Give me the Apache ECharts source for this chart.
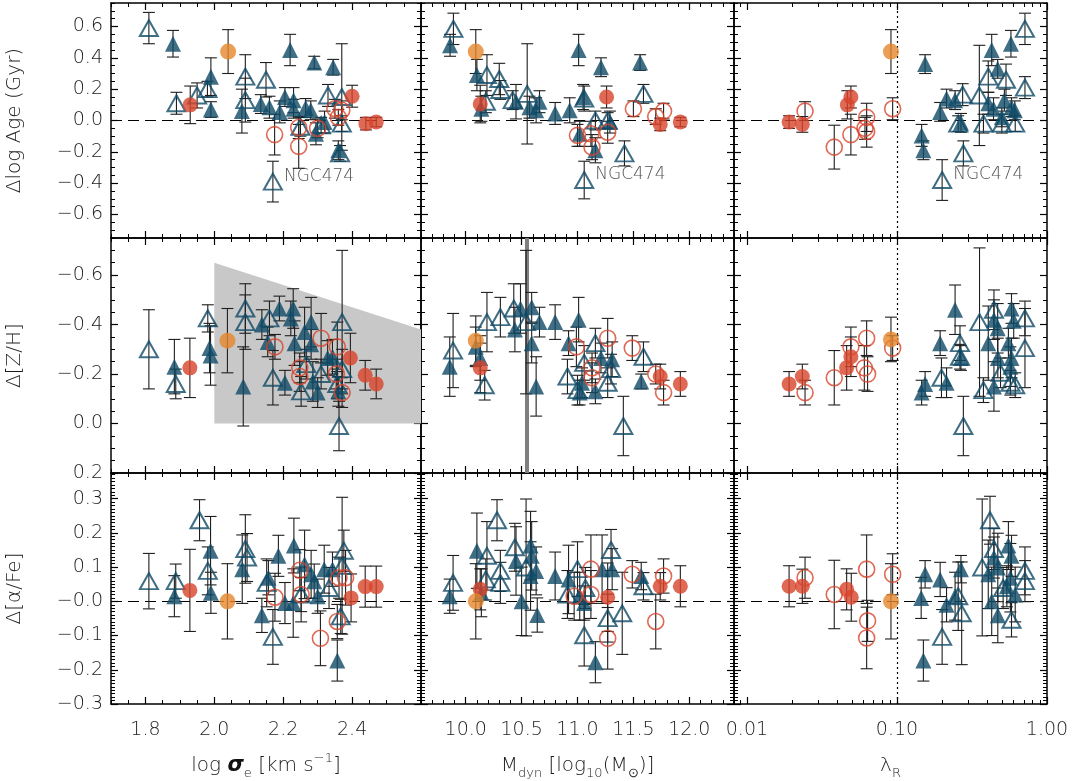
<!DOCTYPE html>
<html>
<head>
<meta charset="utf-8">
<script src="https://cdn.jsdelivr.net/npm/echarts@6/dist/echarts.min.js"></script>
<style>html,body{margin:0;background:#fff}#chart{width:1075px;height:781px}</style>
</head>
<body>
<div id="chart"></div>
<script>
// each point: [type, x, y, err, label]
// ft = filled triangle, ot = open triangle, fr = filled red, or = open red, oo = orange
var ageSigma = [
  ['ft',1.88,0.49,0.085],['ft',1.99,0.28,0.12],['ft',1.99,0.07,0.05],['ft',2.08,0.06,0.14],
  ['ft',2.135,0.105,0.06],['ft',2.16,0.085,0.07],['ft',2.19,0.055,0.07],['ft',2.205,0.15,0.06],
  ['ft',2.22,0.45,0.10],['ft',2.23,0.13,0.08],['ft',2.23,0.075,0.06],['ft',2.265,0.08,0.06],
  ['ft',2.28,0.065,0.06],['ft',2.29,0.37,0.04],['ft',2.295,-0.085,0.07],['ft',2.32,-0.01,0.07],
  ['ft',2.345,0.34,0.05],['ft',2.36,-0.19,0.06],
  ['ot',1.81,0.59,0.10],['ot',1.89,0.11,0.07],['ot',1.95,0.16,0.08],['ot',1.98,0.20,0.05],
  ['ot',2.09,0.28,0.14],['ot',2.09,0.13,0.14],['ot',2.15,0.26,0.11],['ot',2.17,-0.39,0.13,'NGC474'],
  ['ot',2.25,-0.04,0.06],['ot',2.33,0.16,0.07],['ot',2.37,0.15,0.34],['ot',2.37,-0.02,0.05],
  ['ot',2.365,-0.21,0.05],['ot',2.31,-0.03,0.05],
  ['fr',1.93,0.10,0.12],['fr',2.40,0.155,0.07],['fr',2.44,-0.02,0.04],['fr',2.47,-0.01,0.03],
  ['or',2.175,-0.09,0.13],['or',2.245,-0.045,0.07],['or',2.245,-0.165,0.14],['or',2.30,-0.05,0.06],
  ['or',2.35,0.075,0.06],['or',2.37,0.065,0.06],['or',2.36,0.02,0.05],
  ['oo',2.04,0.44,0.14]
];
var ageMass = [
  ['ft',9.86,0.48,0.07],['ft',10.10,0.29,0.10],['ft',10.14,0.075,0.08],['ft',10.45,0.12,0.11],
  ['ft',10.57,0.085,0.07],['ft',10.63,0.065,0.08],['ft',10.66,0.12,0.07],['ft',10.80,0.045,0.07],
  ['ft',10.93,0.065,0.08],['ft',11.01,0.45,0.10],['ft',11.05,0.15,0.08],['ft',11.21,0.34,0.06],
  ['ft',11.02,-0.085,0.08],['ft',11.16,-0.19,0.08],['ft',11.29,-0.01,0.07],['ft',11.56,0.37,0.05],
  ['ot',9.89,0.585,0.10],['ot',10.19,0.29,0.13],['ot',10.30,0.265,0.10],['ot',10.31,0.195,0.06],
  ['ot',10.18,0.12,0.07],['ot',10.42,0.13,0.06],['ot',10.55,0.17,0.32],['ot',11.06,0.14,0.08],
  ['ot',11.16,0.0,0.06],['ot',11.42,-0.21,0.08],['ot',11.59,0.17,0.06],['ot',11.06,-0.38,0.12,'NGC474'],
  ['ot',11.27,0.0,0.05],
  ['fr',10.13,0.105,0.12],['fr',11.26,0.15,0.07],['fr',11.74,-0.025,0.04],['fr',11.92,-0.01,0.03],
  ['or',11.50,0.075,0.05],['or',11.70,0.025,0.05],['or',11.77,0.06,0.05],['or',11.0,-0.095,0.07],
  ['or',11.12,-0.085,0.08],['or',11.13,-0.17,0.08],['or',11.27,-0.075,0.07],
  ['oo',10.09,0.44,0.14]
];
var ageLambda = [
  ['ft',0.154,0.36,0.06],['ft',0.146,-0.095,0.07],['ft',0.150,-0.19,0.06],['ft',0.194,0.055,0.06],
  ['ft',0.214,0.14,0.06],['ft',0.244,0.13,0.06],['ft',0.267,-0.015,0.06],['ft',0.428,0.45,0.10],
  ['ft',0.575,0.49,0.085],['ft',0.469,0.33,0.06],['ft',0.406,0.11,0.07],['ft',0.44,0.075,0.07],
  ['ft',0.52,0.13,0.07],['ft',0.58,0.085,0.06],['ft',0.61,0.065,0.06],['ft',0.50,0.02,0.06],
  ['ot',0.713,0.585,0.10],['ot',0.713,0.21,0.07],['ot',0.533,0.26,0.10],['ot',0.406,0.28,0.10],
  ['ot',0.354,0.16,0.32],['ot',0.274,0.165,0.07],['ot',0.256,-0.02,0.05],['ot',0.277,-0.21,0.08],
  ['ot',0.20,-0.38,0.13,'NGC474'],['ot',0.377,-0.02,0.06],['ot',0.50,-0.02,0.06],['ot',0.614,-0.02,0.05],
  ['fr',0.0191,-0.01,0.04],['fr',0.0234,-0.025,0.05],['fr',0.0467,0.10,0.09],['fr',0.0493,0.15,0.07],
  ['or',0.0244,0.06,0.06],['or',0.0382,-0.17,0.14],['or',0.0493,-0.09,0.13],['or',0.0628,0.02,0.09],
  ['or',0.0612,-0.05,0.07],['or',0.0628,-0.07,0.10],['or',0.0936,0.075,0.07],
  ['oo',0.0912,0.44,0.14]
];
var zhSigma = [
  ['ft',1.884,-0.23,0.11],['ft',1.986,-0.305,0.10],['ft',1.989,-0.275,0.12],['ft',2.084,-0.15,0.16],
  ['ft',2.138,-0.40,0.06],['ft',2.155,-0.33,0.06],['ft',2.189,-0.465,0.05],['ft',2.229,-0.465,0.08],
  ['ft',2.222,-0.425,0.07],['ft',2.233,-0.325,0.09],['ft',2.262,-0.37,0.10],['ft',2.281,-0.41,0.10],
  ['ft',2.281,-0.32,0.06],['ft',2.205,-0.165,0.05],['ft',2.286,-0.17,0.08],['ft',2.30,-0.125,0.06],
  ['ft',2.329,-0.265,0.07],['ft',2.343,-0.27,0.07],['ft',2.36,-0.13,0.06],
  ['ot',1.81,-0.30,0.16],['ot',1.888,-0.16,0.06],['ot',1.981,-0.425,0.055],['ot',2.09,-0.465,0.10],
  ['ot',2.09,-0.41,0.11],['ot',2.16,-0.425,0.07],['ot',2.17,-0.185,0.11],['ot',2.252,-0.13,0.06],
  ['ot',2.267,-0.24,0.06],['ot',2.31,-0.20,0.06],['ot',2.371,-0.41,0.29],['ot',2.362,0.01,0.10],
  ['ot',2.371,-0.22,0.08],['ot',2.357,-0.16,0.06],
  ['fr',1.929,-0.225,0.12],['fr',2.395,-0.265,0.10],['fr',2.438,-0.195,0.06],['fr',2.47,-0.16,0.06],
  ['or',2.176,-0.31,0.05],['or',2.31,-0.345,0.10],['or',2.357,-0.31,0.10],['or',2.248,-0.225,0.06],
  ['or',2.248,-0.19,0.06],['or',2.354,-0.20,0.06],['or',2.371,-0.125,0.06],
  ['oo',2.038,-0.335,0.13]
];
var zhMass = [
  ['ft',9.857,-0.23,0.12],['ft',10.09,-0.31,0.08],['ft',10.13,-0.265,0.09],['ft',10.44,-0.38,0.09],
  ['ft',10.49,-0.465,0.10],['ft',10.59,-0.47,0.06],['ft',10.66,-0.41,0.06],['ft',10.59,-0.325,0.08],
  ['ft',10.63,-0.15,0.12],['ft',10.80,-0.41,0.07],['ft',11.01,-0.42,0.09],['ft',10.92,-0.325,0.05],
  ['ft',11.04,-0.165,0.06],['ft',11.02,-0.125,0.05],['ft',11.16,-0.13,0.05],['ft',11.21,-0.265,0.06],
  ['ft',11.31,-0.26,0.07],['ft',11.57,-0.17,0.03],
  ['ot',9.887,-0.295,0.15],['ot',10.19,-0.41,0.12],['ot',10.31,-0.43,0.08],['ot',10.43,-0.465,0.10],
  ['ot',10.54,-0.41,0.29],['ot',10.17,-0.155,0.06],['ot',10.91,-0.19,0.07],['ot',11.0,-0.135,0.06],
  ['ot',11.06,-0.245,0.07],['ot',11.16,-0.325,0.06],['ot',11.30,-0.22,0.06],['ot',11.27,-0.165,0.06],
  ['ot',11.41,0.01,0.12],['ot',11.59,-0.27,0.06],
  ['fr',10.13,-0.225,0.10],['fr',11.74,-0.19,0.05],['fr',11.92,-0.16,0.05],
  ['or',10.99,-0.31,0.08],['or',11.27,-0.345,0.08],['or',11.49,-0.305,0.05],['or',11.13,-0.225,0.06],
  ['or',11.13,-0.185,0.06],['or',11.70,-0.20,0.04],['or',11.77,-0.125,0.05],
  ['oo',10.09,-0.335,0.10]
];
var zhLambda = [
  ['ft',0.154,-0.16,0.05],['ft',0.146,-0.125,0.05],['ft',0.194,-0.325,0.05],['ft',0.214,-0.165,0.06],
  ['ft',0.244,-0.46,0.10],['ft',0.267,-0.265,0.05],['ft',0.406,-0.325,0.15],['ft',0.443,-0.42,0.08],
  ['ft',0.469,-0.385,0.10],['ft',0.58,-0.465,0.06],['ft',0.60,-0.415,0.07],['ft',0.553,-0.325,0.06],
  ['ft',0.47,-0.265,0.08],['ft',0.58,-0.265,0.08],['ft',0.57,-0.23,0.08],['ft',0.443,-0.15,0.10],
  ['ot',0.355,-0.41,0.30],['ot',0.263,-0.325,0.07],['ot',0.198,-0.185,0.08],['ot',0.277,0.01,0.12],
  ['ot',0.377,-0.135,0.05],['ot',0.443,-0.46,0.08],['ot',0.713,-0.425,0.07],['ot',0.713,-0.305,0.16],
  ['ot',0.49,-0.205,0.06],['ot',0.57,-0.165,0.05],['ot',0.614,-0.155,0.05],['ot',0.263,-0.27,0.05],
  ['fr',0.0191,-0.16,0.05],['fr',0.0234,-0.19,0.05],['fr',0.0462,-0.225,0.09],['fr',0.0493,-0.27,0.08],
  ['or',0.0244,-0.125,0.05],['or',0.0382,-0.185,0.11],['or',0.0493,-0.31,0.08],['or',0.0628,-0.345,0.07],
  ['or',0.0606,-0.225,0.09],['or',0.0637,-0.20,0.07],['or',0.0936,-0.305,0.05],
  ['oo',0.0912,-0.34,0.09]
];
var afeSigma = [
  ['ft',1.884,0.015,0.06],['ft',1.989,0.148,0.10],['ft',1.99,0.025,0.06],['ft',2.081,0.094,0.10],
  ['ft',2.138,-0.041,0.05],['ft',2.157,0.069,0.05],['ft',2.186,0.133,0.06],['ft',2.205,-0.005,0.06],
  ['ft',2.229,-0.005,0.10],['ft',2.231,0.163,0.08],['ft',2.262,0.108,0.10],['ft',2.281,0.079,0.07],
  ['ft',2.29,0.059,0.05],['ft',2.30,0.015,0.05],['ft',2.319,0.094,0.07],['ft',2.343,0.094,0.05],
  ['ft',2.357,-0.173,0.06],
  ['ot',1.81,0.059,0.081],['ot',1.888,0.059,0.05],['ot',1.957,0.237,0.06],['ot',1.981,0.089,0.07],
  ['ot',2.09,0.153,0.10],['ot',2.095,0.128,0.07],['ot',2.152,0.054,0.07],['ot',2.17,-0.104,0.08],
  ['ot',2.252,0.02,0.05],['ot',2.333,0.039,0.06],['ot',2.376,0.148,0.06],['ot',2.371,0.104,0.20],
  ['ot',2.367,-0.044,0.05],
  ['fr',1.929,0.032,0.12],['fr',2.397,0.01,0.07],['fr',2.438,0.043,0.06],['fr',2.47,0.043,0.06],
  ['or',2.176,0.012,0.07],['or',2.248,0.091,0.06],['or',2.252,0.02,0.08],['or',2.308,-0.108,0.08],
  ['or',2.357,-0.059,0.05],['or',2.362,0.069,0.06],['or',2.381,0.069,0.08],
  ['oo',2.038,0.0,0.11]
];
var afeMass = [
  ['ft',9.857,0.015,0.05],['ft',10.10,0.148,0.11],['ft',10.14,0.025,0.07],['ft',10.45,0.118,0.10],
  ['ft',10.58,0.163,0.10],['ft',10.59,0.133,0.10],['ft',10.63,0.089,0.07],['ft',10.58,0.074,0.10],
  ['ft',10.50,0.0,0.10],['ft',10.64,-0.04,0.05],['ft',10.80,0.074,0.07],['ft',10.92,0.064,0.10],
  ['ft',11.02,0.015,0.07],['ft',11.06,-0.005,0.05],['ft',11.16,-0.178,0.06],['ft',11.22,0.094,0.10],
  ['ft',11.31,0.094,0.06],['ft',11.57,0.074,0.04],
  ['ot',9.887,0.054,0.08],['ot',10.28,0.237,0.06],['ot',10.19,0.133,0.10],['ot',10.18,0.064,0.06],
  ['ot',10.31,0.089,0.06],['ot',10.31,0.054,0.06],['ot',10.44,0.158,0.07],['ot',10.54,0.099,0.20],
  ['ot',10.91,0.02,0.07],['ot',11.0,0.094,0.08],['ot',11.06,-0.099,0.09],['ot',11.07,0.039,0.06],
  ['ot',11.27,-0.049,0.07],['ot',11.30,0.15,0.06],['ot',11.40,-0.035,0.12],['ot',11.59,0.044,0.04],
  ['fr',10.13,0.035,0.06],['fr',11.27,0.012,0.10],['fr',11.74,0.044,0.04],['fr',11.92,0.044,0.06],
  ['or',11.12,0.094,0.10],['or',10.97,0.015,0.07],['or',11.12,0.02,0.07],['or',11.27,-0.108,0.09],
  ['or',11.49,0.079,0.04],['or',11.70,-0.059,0.08],['or',11.77,0.074,0.05],
  ['oo',10.09,0.0,0.11]
];
var afeLambda = [
  ['ft',0.154,0.079,0.04],['ft',0.145,0.01,0.06],['ft',0.150,-0.173,0.06],['ft',0.194,0.064,0.05],
  ['ft',0.214,-0.01,0.05],['ft',0.244,0.015,0.07],['ft',0.267,0.094,0.04],['ft',0.443,0.128,0.06],
  ['ft',0.47,0.099,0.10],['ft',0.553,0.163,0.07],['ft',0.58,0.133,0.06],['ft',0.57,0.069,0.10],
  ['ft',0.614,0.02,0.08],['ft',0.428,0.0,0.10],['ft',0.47,-0.041,0.08],['ft',0.406,0.079,0.10],
  ['ft',0.54,0.044,0.06],
  ['ot',0.417,0.237,0.07],['ot',0.256,0.015,0.10],['ot',0.27,-0.035,0.15],['ot',0.20,-0.104,0.08],
  ['ot',0.37,0.099,0.20],['ot',0.443,0.153,0.06],['ot',0.713,0.089,0.07],['ot',0.713,0.059,0.06],
  ['ot',0.58,-0.054,0.05],['ot',0.51,0.039,0.06],
  ['fr',0.0191,0.044,0.06],['fr',0.0234,0.044,0.05],['fr',0.0462,0.035,0.06],['fr',0.0496,0.012,0.07],
  ['or',0.0244,0.069,0.06],['or',0.0382,0.02,0.10],['or',0.0628,0.094,0.10],['or',0.0637,-0.057,0.06],
  ['or',0.0628,-0.107,0.09],['or',0.0936,0.079,0.06],
  ['oo',0.0912,0.0,0.11]
];
// grey envelope in the metallicity / sigma panel
var zhEnvelope = [[2.0,-0.65],[2.6,-0.38],[2.6,0.0],[2.0,0.0]];
var massMarker = 10.55;
var lambdaSplit = 0.1;

var sigmaTicks = [1.8, 2.0, 2.2, 2.4];
var massTicks = [10.0, 10.5, 11.0, 11.5, 12.0];
var lambdaTicks = [0.01, 0.1, 1.0];
var ageTicks = [-0.6, -0.4, -0.2, 0.0, 0.2, 0.4, 0.6];
var zhTicks = [-0.6, -0.4, -0.2, 0.0, 0.2];
var afeTicks = [-0.3, -0.2, -0.1, 0.0, 0.1, 0.2, 0.3];

var BLUE = '#0f4a67', RED = '#d8432a', ORANGE = '#e6862a';
var TEXT = '#1c1c1c';
var colLeft = [108, 421, 734], rowTop = [3, 238, 473], cellW = 313, cellH = 235;

function steps(a, b, s) {
  var out = [];
  for (var v = a; v <= b + 1e-9; v += s) out.push(+v.toFixed(4));
  return out;
}
function signed(v) {
  if (v < -1e-9) return '\u2212' + Math.abs(v).toFixed(1);
  return Math.abs(v).toFixed(1);
}

var cols = [
  {range: [1.7, 2.6], major: sigmaTicks, minor: steps(1.7, 2.6, 0.05), fmt: function (v) { return v.toFixed(1); },
   name: 'log {s|\u03c3}{sub|e} [km s{sup|\u22121}]'},
  {range: [9.6, 12.4], major: massTicks, minor: steps(9.6, 12.4, 0.1), fmt: function (v) { return v.toFixed(1); },
   name: 'M{sub|dyn} [log{sub|10}(M{sub|\u2299})]'},
  {range: [Math.log10(0.0082), 0], major: lambdaTicks.map(Math.log10),
   minor: [0.009, 0.02, 0.03, 0.04, 0.05, 0.06, 0.07, 0.08, 0.09, 0.2, 0.3, 0.4, 0.5, 0.6, 0.7, 0.8, 0.9].map(Math.log10),
   fmt: function (v) { return Math.pow(10, v).toFixed(2); }, name: '\u03bb{sub|R}'}
];
var rows = [
  {range: [-0.75, 0.75], major: ageTicks, minor: steps(-0.75, 0.75, 0.05), fmt: signed, name: '\u0394log Age (Gyr)', zero: true},
  {range: [-0.75, 0.2], major: zhTicks, minor: steps(-0.75, 0.2, 0.05), fmt: signed, name: '\u0394[Z/H]', inverse: true},
  {range: [-0.3, 0.375], major: afeTicks, minor: steps(-0.3, 0.37, 0.01),
   fmt: function (v) { return Math.abs(v) < 1e-9 ? '\u22120.0' : signed(v); }, name: '\u0394[\u03b1/Fe]', zero: true}
];
var panelData = [ageSigma, ageMass, ageLambda, zhSigma, zhMass, zhLambda, afeSigma, afeMass, afeLambda];

var labelStyle = {fontSize: 19, color: TEXT, fontFamily: 'DejaVu Sans', fontWeight: 300};
var nameStyle = {
  fontSize: 20, color: TEXT, fontFamily: 'DejaVu Sans', fontWeight: 300, lineHeight: 28,
  rich: {
    sub: {fontSize: 13, color: TEXT, fontFamily: 'DejaVu Sans', fontWeight: 300, verticalAlign: 'bottom', lineHeight: 28},
    sup: {fontSize: 13, color: TEXT, fontFamily: 'DejaVu Sans', fontWeight: 300, verticalAlign: 'top', lineHeight: 28},
    s: {fontSize: 21, color: '#111', fontFamily: 'DejaVu Sans', fontWeight: 'bold', fontStyle: 'italic', lineHeight: 28}
  }
};

var grids = [], xAxes = [], yAxes = [], series = [];

function addAxis(list, gi, pos, spec, opts) {
  var base = {type: 'value', gridIndex: gi, position: pos, min: spec.range[0], max: spec.range[1],
    inverse: !!spec.inverse, splitLine: {show: false}};
  list.push(Object.assign({}, base, {
    axisLine: {show: true, onZero: false, lineStyle: {color: '#000', width: 1.5}},
    axisTick: {show: true, inside: true, length: 7, customValues: spec.major, lineStyle: {color: '#000', width: 1.2}},
    axisLabel: opts.label ? Object.assign({show: true, customValues: spec.major, formatter: spec.fmt, margin: opts.margin}, labelStyle) : {show: false},
    name: opts.name || '', nameLocation: 'middle', nameGap: opts.nameGap || 0, nameTextStyle: nameStyle
  }));
  list.push(Object.assign({}, base, {
    axisLine: {show: false, onZero: false},
    axisTick: {show: true, inside: true, length: 4, customValues: spec.minor, lineStyle: {color: '#000', width: 1}},
    axisLabel: {show: false}
  }));
}

function errRender(params, api) {
  var x = api.value(0), y = api.value(1), e = api.value(2);
  var a = api.coord([x, y + e]), b = api.coord([x, y - e]);
  var h = 6, st = {stroke: '#1e1e1e', lineWidth: 1.1};
  return {type: 'group', children: [
    {type: 'line', shape: {x1: a[0], y1: a[1], x2: b[0], y2: b[1]}, style: st},
    {type: 'line', shape: {x1: a[0] - h, y1: a[1], x2: a[0] + h, y2: a[1]}, style: st},
    {type: 'line', shape: {x1: b[0] - h, y1: b[1], x2: b[0] + h, y2: b[1]}, style: st}
  ]};
}

var markerStyles = {
  ot: {symbol: 'triangle', symbolSize: [18, 16], itemStyle: {color: 'rgba(255,255,255,0)', borderColor: BLUE, borderWidth: 2}, z: 4},
  ft: {symbol: 'triangle', symbolSize: 16, itemStyle: {color: BLUE}, z: 5},
  or: {symbol: 'circle', symbolSize: 16, itemStyle: {color: 'rgba(255,255,255,0)', borderColor: RED, borderWidth: 1.6}, z: 6},
  fr: {symbol: 'circle', symbolSize: 15, itemStyle: {color: RED}, z: 7},
  oo: {symbol: 'circle', symbolSize: 16, itemStyle: {color: ORANGE}, z: 8}
};

for (var r = 0; r < 3; r++) {
  for (var c = 0; c < 3; c++) {
    var gi = r * 3 + c;
    grids.push({left: colLeft[c], top: rowTop[r], width: cellW, height: cellH});
    var cs = cols[c], rs = rows[r];
    addAxis(xAxes, gi, 'bottom', cs, r === 2 ? {label: true, margin: 17, name: cs.name, nameGap: 48} : {});
    addAxis(xAxes, gi, 'top', cs, {});
    addAxis(yAxes, gi, 'left', rs, c === 0 ? {label: true, margin: 8, name: rs.name, nameGap: 82} : {});
    addAxis(yAxes, gi, 'right', rs, {});

    var ai = gi * 4;
    var pts = panelData[gi].map(function (d) {
      return {t: d[0], x: c === 2 ? Math.log10(d[1]) : d[1], y: d[2], e: d[3], lab: d[4]};
    });

    if (gi === 3) {
      series.push({type: 'custom', xAxisIndex: ai, yAxisIndex: ai, silent: true, z: 1,
        data: zhEnvelope,
        renderItem: function (params, api) {
          if (params.dataIndex !== 0) return null;
          return {type: 'polygon', shape: {points: zhEnvelope.map(function (p) { return api.coord(p); })},
            style: {fill: '#c8c8c8'}};
        }});
    }

    series.push({type: 'custom', xAxisIndex: ai, yAxisIndex: ai, silent: true, z: 3, clip: true,
      data: pts.map(function (p) { return [p.x, p.y, p.e]; }), encode: {x: 0, y: 1},
      renderItem: errRender});

    var lines = [];
    if (rs.zero) lines.push({yAxis: 0, lineStyle: {color: '#000', type: [11, 6], width: 1}});
    if (c === 2) lines.push({xAxis: Math.log10(lambdaSplit), lineStyle: {color: '#000', type: [2, 3], width: 1.2}});
    if (gi === 4) lines.push({xAxis: massMarker, lineStyle: {color: '#7f7f7f', type: 'solid', width: 4}});

    ['ot', 'ft', 'or', 'fr', 'oo'].forEach(function (t, k) {
      var ms = markerStyles[t];
      var s = {
        type: 'scatter', xAxisIndex: ai, yAxisIndex: ai, symbol: ms.symbol, symbolSize: ms.symbolSize,
        itemStyle: ms.itemStyle, z: ms.z, silent: true,
        data: pts.filter(function (p) { return p.t === t; }).map(function (p) {
          var item = {value: [p.x, p.y]};
          if (p.lab) item.label = {show: true, formatter: p.lab, position: 'right', distance: 1, offset: [0, -5],
            fontSize: 17, color: TEXT, fontFamily: 'DejaVu Sans', fontWeight: 300};
          return item;
        })
      };
      if (k === 0 && lines.length) {
        s.markLine = {silent: true, symbol: ['none', 'none'], label: {show: false}, animation: false, z: 2, data: lines};
      }
      series.push(s);
    });
  }
}

var chart = echarts.init(document.getElementById('chart'), null, {renderer: 'canvas'});
chart.setOption({
  animation: false,
  backgroundColor: '#fff',
  grid: grids,
  xAxis: xAxes,
  yAxis: yAxes,
  series: series
});
</script>
</body>
</html>
